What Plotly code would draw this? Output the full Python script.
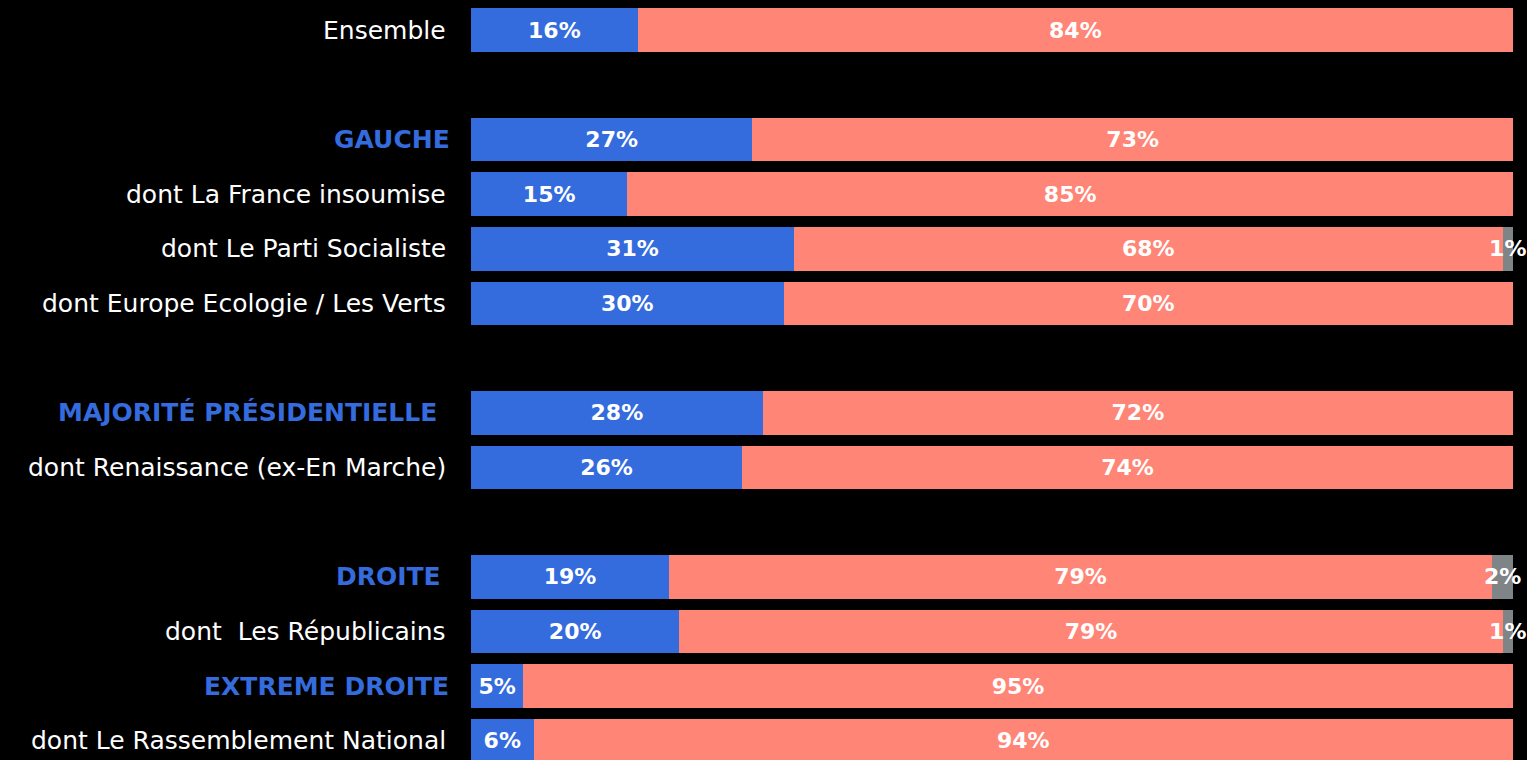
import plotly.graph_objects as go

categories = ["Ensemble", " ", "GAUCHE", "dont La France insoumise", "dont Le Parti Socialiste",
              "dont Europe Ecologie / Les Verts", "  ", "MAJORITÉ PRÉSIDENTIELLE",
              "dont Renaissance (ex-En Marche)", "   ", "DROITE", "dont  Les Républicains",
              "EXTREME DROITE", "dont Le Rassemblement National"]
headers = ["GAUCHE", "MAJORITÉ PRÉSIDENTIELLE", "DROITE", "EXTREME DROITE"]
oui = [16, None, 27, 15, 31, 30, None, 28, 26, None, 19, 20, 5, 6]
non = [84, None, 73, 85, 68, 70, None, 72, 74, None, 79, 79, 95, 94]
nsp = [0, None, 0, 0, 1, 0, None, 0, 0, None, 2, 1, 0, 0]

BLUE = "#346BDD"
SALMON = "#FF8577"
GREY = "#7F8487"
FONT = "DejaVu Sans"

def txt(vals):
    return ["" if (v is None or v == 0) else f"{v}%" for v in vals]

fig = go.Figure()
for name, vals, col in [("Oui", oui, BLUE), ("Non", non, SALMON), ("NSP", nsp, GREY)]:
    fig.add_trace(go.Bar(
        y=categories, x=vals, orientation="h", name=name,
        marker=dict(color=col, line=dict(width=0)),
        text=txt(vals), textposition="inside", insidetextanchor="middle", textangle=0,
        textfont=dict(family=FONT, size=22, color="white", weight="bold"),
        cliponaxis=False, hoverinfo="skip",
    ))

header_shift = {"GAUCHE": -19, "MAJORITÉ PRÉSIDENTIELLE": -32, "DROITE": -28, "EXTREME DROITE": -20}
for c in categories:
    if not c.strip():
        continue
    is_h = c in headers
    fig.add_annotation(
        xref="paper", yref="y", x=0, y=c, xanchor="right", yanchor="middle",
        xshift=header_shift.get(c, -23), showarrow=False,
        text=f"<b>{c}</b>" if is_h else c,
        font=dict(family=FONT, size=25, color=BLUE if is_h else "white"),
    )

fig.update_layout(
    width=1527, height=760,
    paper_bgcolor="black", plot_bgcolor="black",
    barmode="stack", bargap=0.2, showlegend=False,
    margin=dict(l=471, r=14, t=0, b=0),
    uniformtext=dict(minsize=22, mode="show"),
    xaxis=dict(range=[0, 100], visible=False, fixedrange=True),
    yaxis=dict(categoryorder="array", categoryarray=categories, range=[13.348, -0.5486],
               visible=False, fixedrange=True),
)
fig.write_html("out.html", config={"displayModeBar": False},
               post_script="document.body.style.margin='0';document.body.style.background='black';"
                           "document.body.style.overflow='hidden';")
